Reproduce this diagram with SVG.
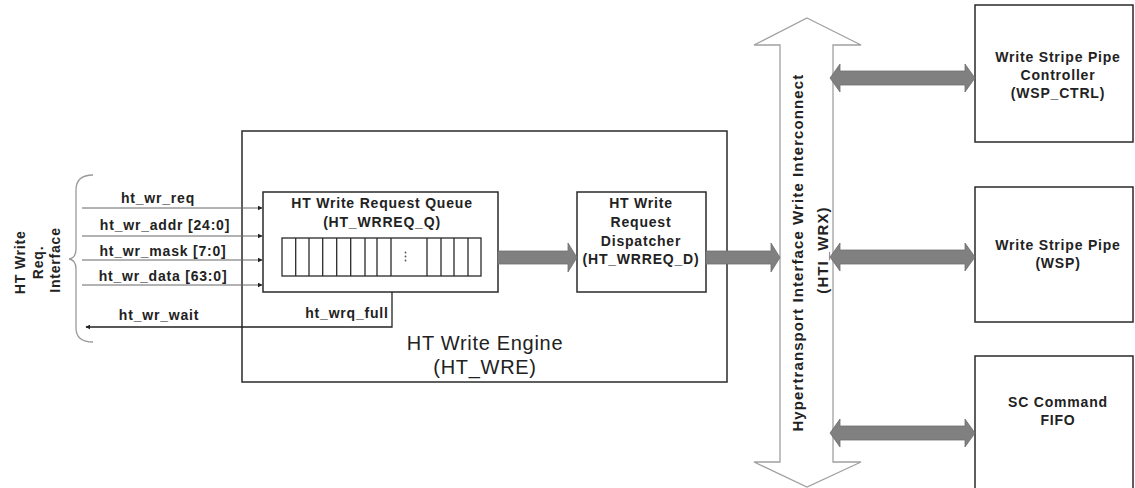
<svg xmlns="http://www.w3.org/2000/svg" width="1135" height="488" viewBox="0 0 1135 488">
  <defs>
    <style>
      .lbl { font-family: "Liberation Sans", Arial, sans-serif; font-weight: bold; font-size: 14px; letter-spacing: 0.8px; fill: #222; text-anchor: middle; }
      .big { font-family: "Liberation Sans", Arial, sans-serif; font-size: 20px; letter-spacing: 0.7px; fill: #222; text-anchor: middle; }
      .vlbl { font-family: "Liberation Sans", Arial, sans-serif; font-weight: bold; font-size: 15px; letter-spacing: 1.1px; fill: #222; text-anchor: middle; }
      .box { fill: #fff; stroke: #2a2a2a; stroke-width: 1.5; }
      .cell { fill: none; stroke: #2a2a2a; stroke-width: 1.3; }
      .sig { fill: none; stroke: #666; stroke-width: 1; }
      .sigdark { fill: none; stroke: #222; stroke-width: 1.3; }
      .fat { fill: #808080; stroke: #6f6f6f; stroke-width: 0.8; }
      .bus { fill: #fff; stroke: #a0a0a0; stroke-width: 1.3; }
      .brace { fill: none; stroke: #9a9a9a; stroke-width: 1.3; }
    </style>
    <marker id="tip" viewBox="0 0 8 8" refX="7" refY="4" markerWidth="5" markerHeight="5" orient="auto-start-reverse" markerUnits="userSpaceOnUse">
      <path d="M0,0 L8,4 L0,8 z" fill="#222"/>
    </marker>
  </defs>

  <rect width="1135" height="488" fill="#fff"/>

  <!-- HT write request interface label and brace -->
  <g id="ht-wr-interface">
    <text class="lbl" transform="translate(0,260) rotate(-90)">
      <tspan x="0" y="25">HT Write</tspan>
      <tspan x="0" y="43">Req.</tspan>
      <tspan x="0" y="60">Interface</tspan>
    </text>
    <path class="brace" d="M93,175 Q76,175 76,190 L76,249 Q76,258 69,259 Q76,260 76,269 L76,328 Q76,342 93,342"/>
  </g>

  <!-- HT Write Engine container -->
  <g id="ht-wre">
    <rect class="box" x="242" y="131" width="485" height="251"/>
    <text class="big" x="485" y="350">HT Write Engine</text>
    <text class="big" x="485" y="374">(HT_WRE)</text>
  </g>

  <!-- Request queue -->
  <g id="ht-wrreq-q">
    <rect class="box" x="263" y="192" width="235" height="100"/>
    <text class="lbl" x="382" y="208">HT Write Request Queue</text>
    <text class="lbl" x="382" y="227">(HT_WRREQ_Q)</text>
    <rect class="cell" x="282" y="238" width="199" height="38"/>
    <path class="cell" d="M295.7,238V276 M309,238V276 M322.7,238V276 M336.7,238V276 M350.7,238V276 M365,238V276 M377,238V276 M391,238V276 M427,238V276 M441,238V276 M454,238V276 M468,238V276"/>
    <circle cx="405.5" cy="252.5" r="0.9" fill="#555"/>
    <circle cx="405.5" cy="256.5" r="0.9" fill="#555"/>
    <circle cx="405.5" cy="260.5" r="0.9" fill="#555"/>
  </g>

  <!-- Request dispatcher -->
  <g id="ht-wrreq-d">
    <rect class="box" x="577" y="192" width="129" height="100"/>
    <text class="lbl" x="641" y="208">HT Write</text>
    <text class="lbl" x="641" y="227">Request</text>
    <text class="lbl" x="641" y="246">Dispatcher</text>
    <text class="lbl" x="641" y="264">(HT_WRREQ_D)</text>
  </g>

  <!-- Hypertransport interface write interconnect bus -->
  <g id="hti-wrx">
    <polygon class="bus" points="807,18 861,45 833,45 833,462 861,462 807,487 754,462 780,462 780,45 754,45"/>
    <text class="vlbl" transform="translate(0,250) rotate(-90)">
      <tspan x="0" y="803">Hypertransport Interface Write Interconnect</tspan>
      <tspan x="0" y="828">(HTI_WRX)</tspan>
    </text>
  </g>

  <!-- Downstream blocks -->
  <g id="wsp-ctrl">
    <rect class="box" x="975" y="5" width="158" height="137"/>
    <text class="lbl" x="1058" y="62">Write Stripe Pipe</text>
    <text class="lbl" x="1058" y="80">Controller</text>
    <text class="lbl" x="1058" y="98">(WSP_CTRL)</text>
  </g>
  <g id="wsp">
    <rect class="box" x="975" y="187" width="158" height="135"/>
    <text class="lbl" x="1058" y="250">Write Stripe Pipe</text>
    <text class="lbl" x="1058" y="268">(WSP)</text>
  </g>
  <g id="sc-cmd-fifo">
    <rect class="box" x="975" y="356" width="158" height="140"/>
    <text class="lbl" x="1058" y="407">SC Command</text>
    <text class="lbl" x="1058" y="425">FIFO</text>
  </g>

  <!-- Connectors -->
  <g id="connectors">
    <!-- request inputs into the queue -->
    <line class="sig" x1="82" y1="208" x2="262" y2="208" marker-end="url(#tip)"/>
    <line class="sig" x1="82" y1="236" x2="262" y2="236" marker-end="url(#tip)"/>
    <line class="sig" x1="82" y1="260" x2="262" y2="260" marker-end="url(#tip)"/>
    <line class="sig" x1="82" y1="285" x2="262" y2="285" marker-end="url(#tip)"/>
    <text class="lbl" x="158" y="203">ht_wr_req</text>
    <text class="lbl" x="165" y="230">ht_wr_addr [24:0]</text>
    <text class="lbl" x="163" y="256">ht_wr_mask [7:0]</text>
    <text class="lbl" x="163" y="281">ht_wr_data [63:0]</text>

    <!-- queue full feedback to ht_wr_wait -->
    <polyline class="sigdark" points="392,292 392,327 86,327" marker-end="url(#tip)"/>
    <text class="lbl" x="347" y="318">ht_wrq_full</text>
    <text class="lbl" x="159" y="320">ht_wr_wait</text>

    <!-- queue to dispatcher -->
    <polygon class="fat" points="498,251 568,251 568,243 577,257.5 568,272 568,264 498,264"/>
    <!-- dispatcher to bus -->
    <polygon class="fat" points="706,251 771,251 771,243 780,257.5 771,272 771,264 706,264"/>

    <!-- bus to downstream blocks (bidirectional) -->
    <polygon class="fat" points="830,78 840,64 840,71 965,71 965,64 975,78 965,92 965,85 840,85 840,92"/>
    <polygon class="fat" points="830,257 840,243 840,250 965,250 965,243 975,257 965,271 965,264 840,264 840,271"/>
    <polygon class="fat" points="830,433 840,419 840,426 965,426 965,419 975,433 965,447 965,440 840,440 840,447"/>
  </g>
</svg>
